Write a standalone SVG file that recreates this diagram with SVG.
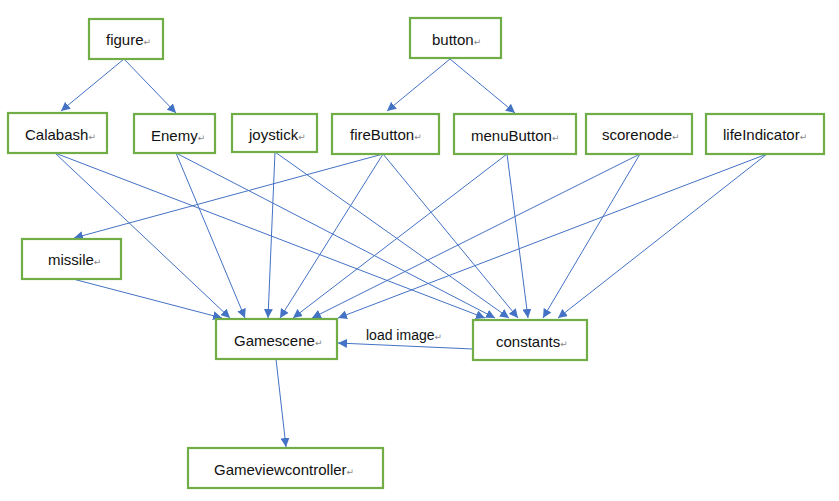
<svg xmlns="http://www.w3.org/2000/svg" width="839" height="501" viewBox="0 0 839 501">
<defs>
<marker id="ah" viewBox="0 0 10 10" refX="10" refY="5" markerWidth="9" markerHeight="9" markerUnits="userSpaceOnUse" orient="auto">
<path d="M0,0 L10,5 L0,10 z" fill="#4472C4"/>
</marker>
</defs>
<style>
.box{fill:#fff;stroke:#70AD47;stroke-width:2.2}
.t{font-family:"Liberation Sans",Arial,sans-serif;font-size:15px;fill:#111}
.lbl{font-family:"Liberation Sans",Arial,sans-serif;font-size:14px;fill:#111}
.r{font-family:"DejaVu Sans",sans-serif;font-size:9px;fill:#888}
.e{stroke:#4472C4;stroke-width:1;fill:none;marker-end:url(#ah)}
</style>
<rect width="839" height="501" fill="#fff"/>
<g id="connectors">
<line class="e" x1="124" y1="59" x2="61" y2="111"/>
<line class="e" x1="124" y1="59" x2="176" y2="113"/>
<line class="e" x1="450" y1="59" x2="387" y2="111"/>
<line class="e" x1="450" y1="59" x2="515" y2="113"/>
<line class="e" x1="55" y1="153" x2="230" y2="318"/>
<line class="e" x1="55" y1="153" x2="485" y2="318"/>
<line class="e" x1="176" y1="153" x2="245" y2="318"/>
<line class="e" x1="176" y1="153" x2="495" y2="318"/>
<line class="e" x1="275" y1="152" x2="268" y2="318"/>
<line class="e" x1="275" y1="152" x2="509" y2="318"/>
<line class="e" x1="383" y1="154" x2="74" y2="238"/>
<line class="e" x1="383" y1="154" x2="280" y2="318"/>
<line class="e" x1="383" y1="154" x2="518" y2="318"/>
<line class="e" x1="507" y1="154" x2="293" y2="318"/>
<line class="e" x1="507" y1="154" x2="528" y2="318"/>
<line class="e" x1="640" y1="154" x2="312" y2="318"/>
<line class="e" x1="640" y1="154" x2="543" y2="318"/>
<line class="e" x1="767" y1="154" x2="338" y2="318"/>
<line class="e" x1="767" y1="154" x2="558" y2="318"/>
<line class="e" x1="73" y1="279" x2="222" y2="318"/>
<line class="e" x1="473" y1="349" x2="338" y2="343"/>
<line class="e" x1="276" y1="359" x2="286" y2="447"/>
<text class="lbl" x="366" y="340">load image<tspan class="r">↵</tspan></text>
</g>
<g id="figure"><rect class="box" x="89" y="19" width="74" height="40"/><text class="t" x="106" y="45">figure<tspan class="r">↵</tspan></text></g>
<g id="button"><rect class="box" x="410" y="18" width="91" height="40"/><text class="t" x="432" y="45">button<tspan class="r">↵</tspan></text></g>
<g id="Calabash"><rect class="box" x="8" y="113" width="99" height="40"/><text class="t" x="25" y="140">Calabash<tspan class="r">↵</tspan></text></g>
<g id="Enemy"><rect class="box" x="134" y="114" width="81" height="39"/><text class="t" x="151" y="141">Enemy<tspan class="r">↵</tspan></text></g>
<g id="joystick"><rect class="box" x="232" y="114" width="85" height="38"/><text class="t" x="249" y="140">joystick<tspan class="r">↵</tspan></text></g>
<g id="fireButton"><rect class="box" x="332" y="114" width="107" height="40"/><text class="t" x="350" y="140">fireButton<tspan class="r">↵</tspan></text></g>
<g id="menuButton"><rect class="box" x="454" y="114" width="122" height="40"/><text class="t" x="471" y="141">menuButton<tspan class="r">↵</tspan></text></g>
<g id="scorenode"><rect class="box" x="586" y="114" width="106" height="40"/><text class="t" x="602" y="140">scorenode<tspan class="r">↵</tspan></text></g>
<g id="lifeIndicator"><rect class="box" x="706" y="114" width="118" height="40"/><text class="t" x="723" y="140">lifeIndicator<tspan class="r">↵</tspan></text></g>
<g id="missile"><rect class="box" x="22" y="239" width="99" height="40"/><text class="t" x="48" y="265">missile<tspan class="r">↵</tspan></text></g>
<g id="Gamescene"><rect class="box" x="216" y="319" width="121" height="40"/><text class="t" x="234" y="346">Gamescene<tspan class="r">↵</tspan></text></g>
<g id="constants"><rect class="box" x="473" y="320" width="114" height="40"/><text class="t" x="496" y="347">constants<tspan class="r">↵</tspan></text></g>
<g id="Gameviewcontroller"><rect class="box" x="188" y="448" width="195" height="40"/><text class="t" x="214" y="475">Gameviewcontroller<tspan class="r">↵</tspan></text></g>
</svg>
